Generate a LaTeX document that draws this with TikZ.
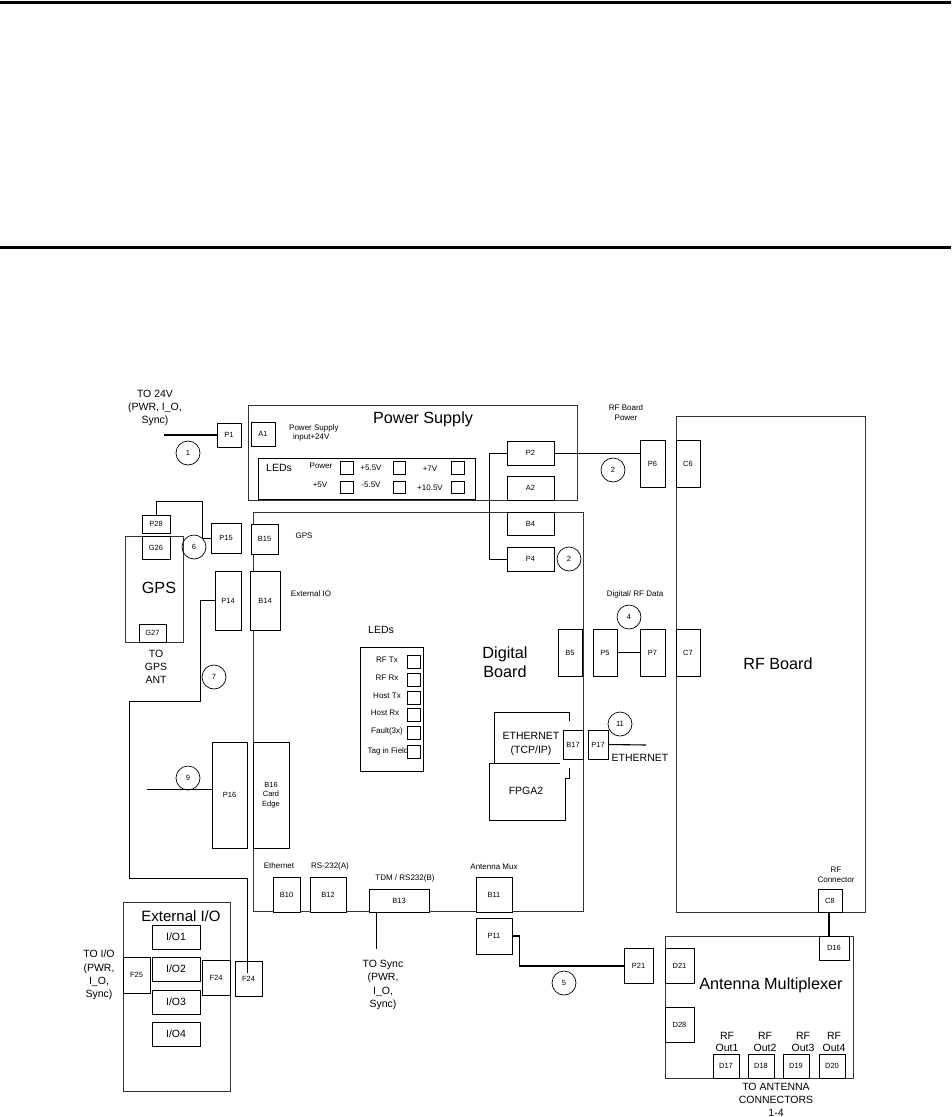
\documentclass[tikz,border=0pt]{standalone}
\usepackage{fontspec}
\setmainfont{Liberation Sans}
\usepackage{tikz}

\begin{document}
\begin{tikzpicture}[
  x=1pt, y=-1pt,
  wh/.style 2 args={minimum width=#1, minimum height=#2},
  board/.style={rectangle, draw=black!80, fill=white, line width=0.9pt},
  box/.style={rectangle, draw, fill=white, line width=0.8pt, inner sep=0pt, align=center, font=\fontsize{7.5}{9.7}\selectfont},
  led/.style={rectangle, draw, line width=0.7pt, minimum size=12.5, inner sep=0pt},
  num/.style={circle, draw, line width=0.7pt, minimum size=24, inner sep=0pt, font=\fontsize{7.5}{9}\selectfont},
  big/.style={inner sep=0pt, align=center, font=\fontsize{16.2}{19}\selectfont},
  mid/.style={inner sep=0pt, align=center, font=\fontsize{10.5}{13.3}\selectfont},
  tiny/.style={inner sep=0pt, align=center, font=\fontsize{8}{9.8}\selectfont},
  wire/.style={line width=0.8pt},
  cable/.style={line width=1.8pt},
  rulebar/.style={line width=3pt}
]
\useasboundingbox (0,0) rectangle (951,1117);

\coordinate (ruleAw) at (0,2);
\coordinate (ruleAe) at (951,2);
\coordinate (ruleBw) at (0,247);
\coordinate (ruleBe) at (951,247);
\draw[rulebar] (ruleAw) -- (ruleAe);
\draw[rulebar] (ruleBw) -- (ruleBe);

\node[board, wh={329}{95}] (psu) at (412.5,452.5) {};
\node[board, wh={330}{399}] (dig) at (418,711.5) {};
\node[board, wh={189}{496}] (rf) at (770.5,664) {};
\node[board, wh={58}{106}] (gpsbrd) at (154,589) {};
\node[board, wh={107}{189}] (extio) at (176.5,996.5) {};
\node[board, wh={188}{142}] (mux) at (759,1007) {};
\node[box, wh={217}{41}] (psuled) at (366.5,478.5) {};
\node[box, wh={63}{124}] (digled) at (391.5,709) {};

\node[big] (psulbl) at (423,419) {Power Supply};
\node[big] (gpslbl) at (159,588) {GPS};
\node[big] (diglbl) at (505,662) {Digital\\Board};
\node[big] (rflbl) at (778,664) {RF Board};
\node[big, font=\fontsize{15}{18}\selectfont] (extlbl) at (181,916) {External I/O};
\node[big] (muxlbl) at (771,985) {Antenna Multiplexer};

\node[box, wh={24}{24}] (P1) at (229,435) {P1};
\node[box, wh={24}{24}] (A1) at (263,434) {A1};
\node[box, wh={47}{24}] (P2) at (530.5,453) {P2};
\node[box, wh={47}{24}] (A2) at (530.5,488) {A2};
\node[box, wh={47}{23}] (B4) at (530.5,523.5) {B4};
\node[box, wh={47}{24}] (P4) at (530.5,559) {P4};
\node[box, wh={28}{18}] (P28) at (156,524) {P28};
\node[box, wh={28}{23}] (G26) at (156,547.5) {G26};
\node[box, wh={27}{18}] (G27) at (152.5,633) {G27};
\node[box, wh={30}{30}] (P15) at (226,538) {P15};
\node[box, wh={27}{30}] (B15) at (264.5,539) {B15};
\node[box, wh={26}{59}] (P14) at (228,600.5) {P14};
\node[box, wh={30}{59}] (B14) at (265,600.5) {B14};
\node[box, wh={35}{106}] (P16) at (229.5,795) {P16};
\node[box, wh={36}{106}] (B16) at (271,795) {B16\\Card\\Edge};
\node[box, wh={27}{35}] (B10) at (286.5,894.5) {B10};
\node[box, wh={36}{35}] (B12) at (328,894.5) {B12};
\node[box, wh={60}{23}] (B13) at (399,900.5) {B13};
\node[box, wh={36}{35}] (B11) at (494,894.5) {B11};
\node[box, wh={36}{36}] (P11) at (494,936) {P11};
\node[box, wh={24}{47}] (B5) at (570,652.5) {B5};
\node[box, wh={24}{47}] (P5) at (605,652.5) {P5};
\node[box, wh={25}{47}] (P7) at (652.5,652.5) {P7};
\node[box, wh={24}{47}] (C7) at (688,652.5) {C7};
\node[box, wh={25}{47}] (P6) at (652.5,463.5) {P6};
\node[box, wh={24}{47}] (C6) at (688,463.5) {C6};
\node[box, wh={20}{29}] (B17) at (573,744.5) {B17};
\node[box, wh={20}{29}] (P17) at (598,744.5) {P17};
\node[box, wh={24}{23}] (C8) at (830,900.5) {C8};
\node[box, wh={30}{24}] (D16) at (834,948) {D16};
\node[box, wh={29}{35}] (P21) at (638.5,965.5) {P21};
\node[box, wh={29}{35}] (D21) at (679.5,965.5) {D21};
\node[box, wh={29}{35}] (D28) at (679.5,1024.5) {D28};
\node[box, wh={26}{24}] (D17) at (726,1066) {D17};
\node[box, wh={26}{24}] (D18) at (761,1066) {D18};
\node[box, wh={26}{24}] (D19) at (796,1066) {D19};
\node[box, wh={26}{24}] (D20) at (832,1066) {D20};
\node[box, wh={27}{36}] (F25) at (136.5,975) {F25};
\node[box, wh={28}{35}] (F24a) at (216,977.5) {F24};
\node[box, wh={27}{35}] (F24b) at (248.5,978.5) {F24};
\node[box, wh={48}{24}, font=\fontsize{10.5}{12}\selectfont] (IO1) at (176,937) {I/O1};
\node[box, wh={48}{24}, font=\fontsize{10.5}{12}\selectfont] (IO2) at (176,969) {I/O2};
\node[box, wh={48}{24}, font=\fontsize{10.5}{12}\selectfont] (IO3) at (176,1002) {I/O3};
\node[box, wh={48}{24}, font=\fontsize{10.5}{12}\selectfont] (IO4) at (176,1034) {I/O4};

\node[led] (L1) at (347,468) {};
\node[led] (L2) at (399.5,468) {};
\node[led] (L3) at (458,468) {};
\node[led] (L4) at (347,487.5) {};
\node[led] (L5) at (399.5,487.5) {};
\node[led] (L6) at (458,487.5) {};
\node[led] (T1) at (414,662) {};
\node[led] (T2) at (414,680) {};
\node[led] (T3) at (414,698) {};
\node[led] (T4) at (414,715) {};
\node[led] (T5) at (414,733) {};
\node[led] (T6) at (414,752) {};

\node[num] (n1) at (188,453) {1};
\node[num] (n2a) at (569,559) {2};
\node[num] (n2b) at (613,470) {2};
\node[num] (n4) at (629,617) {4};
\node[num] (n5) at (564,983) {5};
\node[num] (n6) at (194,547) {6};
\node[num] (n7) at (214,677) {7};
\node[num] (n9) at (188,778) {9};
\node[num] (n11) at (620,724) {11};

\node[mid] (to24) at (155,408) {TO 24V\\(PWR, I\_O,\\Sync)};
\node[tiny, anchor=west, align=left] (psuin) at (289,433) {Power Supply\\\hspace{4pt}input+24V};
\node[mid] (psuledlbl) at (279,468) {LEDs};
\node[tiny] (tpow) at (321,466) {Power};
\node[tiny] (t55) at (371,468) {+5.5V};
\node[tiny] (t7) at (430,469) {+7V};
\node[tiny] (t5) at (320,485) {+5V};
\node[tiny] (tm55) at (371,485) {-5.5V};
\node[tiny] (t105) at (430,488) {+10.5V};
\node[mid] (togps) at (156,667) {TO\\GPS\\ANT};
\node[tiny] (gpsio) at (304,536) {GPS};
\node[tiny] (extiolbl) at (311,594) {External IO};
\node[mid] (digledlbl) at (381,630) {LEDs};
\node[tiny] (rftx) at (387,660) {RF Tx};
\node[tiny] (rfrx) at (387,678) {RF Rx};
\node[tiny] (hosttx) at (387,696) {Host Tx};
\node[tiny] (hostrx) at (385,713) {Host Rx};
\node[tiny] (fault) at (387,731) {Fault(3x)};
\node[tiny] (tagfld) at (388,751) {Tag in Field};
\node[tiny] (rfpow) at (626,413) {RF Board\\Power};
\node[tiny] (rfdata) at (635,594) {Digital/ RF Data};
\node[mid] (ethint) at (531,744) {ETHERNET\\(TCP/IP)};
\node[mid] (ethext) at (640,758) {ETHERNET};
\node[mid] (fpga) at (526,791) {FPGA2};
\node[tiny] (ethlbl) at (279,866) {Ethernet};
\node[tiny] (rsa) at (330,866) {RS-232(A)};
\node[tiny] (rsb) at (405,878) {TDM / RS232(B)};
\node[tiny] (antmux) at (494,867) {Antenna Mux};
\node[mid] (toio) at (99,975) {TO I/O\\(PWR,\\I\_O,\\Sync)};
\node[mid] (tosync) at (383,985) {TO Sync\\(PWR,\\I\_O,\\Sync)};
\node[tiny] (rfconn) at (836,875) {RF\\Connector};
\node[mid, font=\fontsize{10.5}{12.7}\selectfont] (out1) at (727,1042) {RF\\Out1};
\node[mid, font=\fontsize{10.5}{12.7}\selectfont] (out2) at (765,1042) {RF\\Out2};
\node[mid, font=\fontsize{10.5}{12.7}\selectfont] (out3) at (803,1042) {RF\\Out3};
\node[mid, font=\fontsize{10.5}{12.7}\selectfont] (out4) at (834,1042) {RF\\Out4};
\node[mid] (toant) at (776,1100) {TO ANTENNA\\CONNECTORS\\1-4};

\coordinate (end24) at (164,435);
\coordinate (gpsbend) at (202,501);
\coordinate (iobendA) at (200,701);
\coordinate (iobendB) at (129,878);
\coordinate (ioend) at (247,973);
\coordinate (end9) at (147,789);
\coordinate (endsync) at (376,949);
\coordinate (endeth) at (646,745);
\coordinate (ethA) at (569,721);
\coordinate (ethB) at (569,712);
\coordinate (ethC) at (494,712);
\coordinate (ethD) at (494,763);
\coordinate (fpgaA) at (560,763);
\coordinate (fpgaB) at (489,763);
\coordinate (fpgaC) at (489,820);
\coordinate (fpgaD) at (565,820);
\coordinate (fpgaE) at (565,778);
\coordinate (fpgaF) at (569,778);
\coordinate (fpgaG) at (569,768);
\coordinate (muxbend) at (519,966);

\draw[cable] (end24) -- (P1.west);
\draw[wire] (P2.west) -- ++(-17,0) |- (P4.west);
\draw[wire] (P2.east) -- (P2.east -| P6.west);
\draw[wire] (P28.north) |- (gpsbend) |- (P15.west);
\draw[wire] (P14.west) -| (iobendA) -| (iobendB) -| (ioend);
\draw[wire] (end9) -- (end9 -| P16.west);
\draw[wire] (endsync) -- (endsync |- B13.south);
\draw[cable] (P5.east) -- (P7.west);
\draw[wire, line width=1.1pt] (P17.east) -- (endeth);
\draw[wire] (ethA) -- (ethB) -- (ethC) -- (ethD);
\draw[wire] (fpgaA) -- (fpgaB) -- (fpgaC) -- (fpgaD) -- (fpgaE) -- (fpgaF) -- (fpgaG);
\draw[cable] (P11.east) -- ++(7,0) |- (muxbend) -- (muxbend -| P21.west);
\draw[cable] (C8.south -| 829,0) -- (D16.north -| 829,0);
\end{tikzpicture}
\end{document}
